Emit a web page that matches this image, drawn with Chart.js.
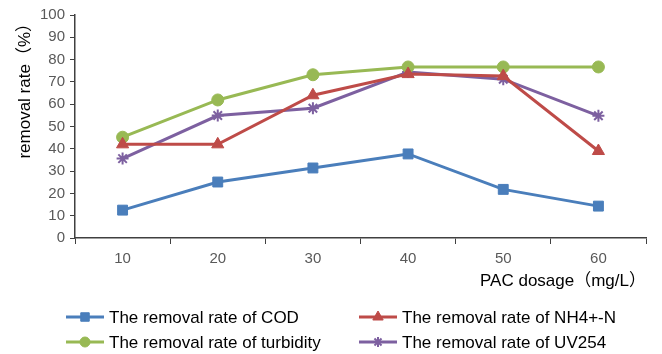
<!DOCTYPE html>
<html>
<head>
<meta charset="utf-8">
<script src="https://cdn.jsdelivr.net/npm/chart.js@4/dist/chart.umd.min.js"></script>
<style>
  html, body { margin: 0; padding: 0; background: #fff; }
  #wrap { width: 662px; height: 354px; }
</style>
</head>
<body>
<div id="wrap"><canvas id="myChart"></canvas></div>
<script>
'use strict'
// PAC dosage (mg/L) on the x axis
let dosage = ['10', '20', '30', '40', '50', '60'];
let yTicks = [0, 10, 20, 30, 40, 50, 60, 70, 80, 90, 100];

let codRate = [12.5, 25.1, 31.4, 37.7, 21.8, 14.3];
let nh4Rate = [42.0, 42.0, 64.0, 73.5, 72.6, 39.0];
let turbidityRate = [45.2, 61.9, 73.2, 76.7, 76.7, 76.7];
let uv254Rate = [35.6, 54.9, 58.2, 74.4, 71.2, 54.8];

let seriesNames = [
    'The removal rate of COD',
    'The removal rate of NH4+-N',
    'The removal rate of turbidity',
    'The removal rate of UV254'
];

let font = "'Liberation Sans', Arial, 'Noto Sans CJK SC', sans-serif";
let textColor = '#595959';
let axisColor = '#404040';

function makeSet(i, values, color, style, radius){
    return {
        label: seriesNames[i],
        data: values,
        borderColor: color,
        backgroundColor: color,
        borderWidth: 3,
        pointStyle: style,
        pointRadius: radius,
        pointHoverRadius: radius,
        pointBorderWidth: style === 'star' ? 2 : 1,
        pointBackgroundColor: color,
        pointBorderColor: color,
        tension: 0
    };
}

// legend in two columns under the axis title
const legendPlugin = {
    id: 'twoColLegend',
    afterDraw(chart){
        let ctx = chart.ctx;
        let colX = [66, 359];
        let rowY = [317, 342];
        chart.data.datasets.forEach(function(ds, i){
            let x0 = colX[i % 2];
            let y = rowY[Math.floor(i / 2)];
            ctx.save();
            ctx.strokeStyle = ds.borderColor;
            ctx.fillStyle = ds.borderColor;
            ctx.lineWidth = 3;
            ctx.beginPath();
            ctx.moveTo(x0, y);
            ctx.lineTo(x0 + 38, y);
            ctx.stroke();
            ctx.lineWidth = ds.pointBorderWidth;
            Chart.helpers.drawPoint(ctx, {
                pointStyle: ds.pointStyle,
                radius: ds.pointRadius - 1,
                rotation: 0,
                borderWidth: ds.pointBorderWidth
            }, x0 + 19, y);
            ctx.fillStyle = '#000';
            ctx.font = '17px ' + font;
            ctx.textBaseline = 'middle';
            ctx.textAlign = 'left';
            ctx.fillText(ds.label, x0 + 43, y + 1);
            ctx.restore();
        });
    }
};

let ctx = document.getElementById('myChart').getContext('2d');
let chart = new Chart(ctx, {
    type: 'line',
    data: {
        labels: dosage,
        datasets: [
            makeSet(0, codRate, '#4a7ebb', 'rect', 7),
            makeSet(1, nh4Rate, '#be4b48', 'triangle', 7),
            makeSet(2, turbidityRate, '#98b954', 'circle', 6),
            makeSet(3, uv254Rate, '#7d60a0', 'star', 6)
        ]
    },
    options: {
        responsive: true,
        maintainAspectRatio: false,
        animation: false,
        layout: { padding: { left: 15, right: 16, top: 15, bottom: 62 } },
        plugins: {
            legend: { display: false },
            tooltip: { enabled: false }
        },
        scales: {
            x: {
                type: 'category',
                offset: true,
                grid: {
                    offset: true,
                    drawOnChartArea: false,
                    tickLength: 6,
                    color: axisColor
                },
                border: { color: axisColor, width: 1.5 },
                ticks: {
                    color: textColor,
                    font: { family: font, size: 15 },
                    padding: 6
                },
                title: {
                    display: true,
                    text: 'PAC dosage（mg/L）',
                    align: 'end',
                    color: '#000',
                    font: { family: font, size: 17 },
                    padding: { top: 2, bottom: 0 }
                },
                afterFit: function(scale){ scale.height = 54; }
            },
            y: {
                min: 0,
                max: 100,
                afterBuildTicks: function(scale){
                    scale.ticks = yTicks.map(function(v){ return { value: v }; });
                },
                grid: {
                    drawOnChartArea: false,
                    tickLength: 5,
                    color: axisColor
                },
                border: { color: axisColor, width: 1.5 },
                ticks: {
                    color: textColor,
                    font: { family: font, size: 15 },
                    padding: 5
                },
                title: {
                    display: true,
                    text: 'removal rate（%）',
                    align: 'end',
                    color: '#000',
                    font: { family: font, size: 17 },
                    padding: { top: 0, bottom: 4 }
                },
                afterFit: function(scale){ scale.width = 60; }
            }
        }
    },
    plugins: [legendPlugin]
});
</script>
</body>
</html>
